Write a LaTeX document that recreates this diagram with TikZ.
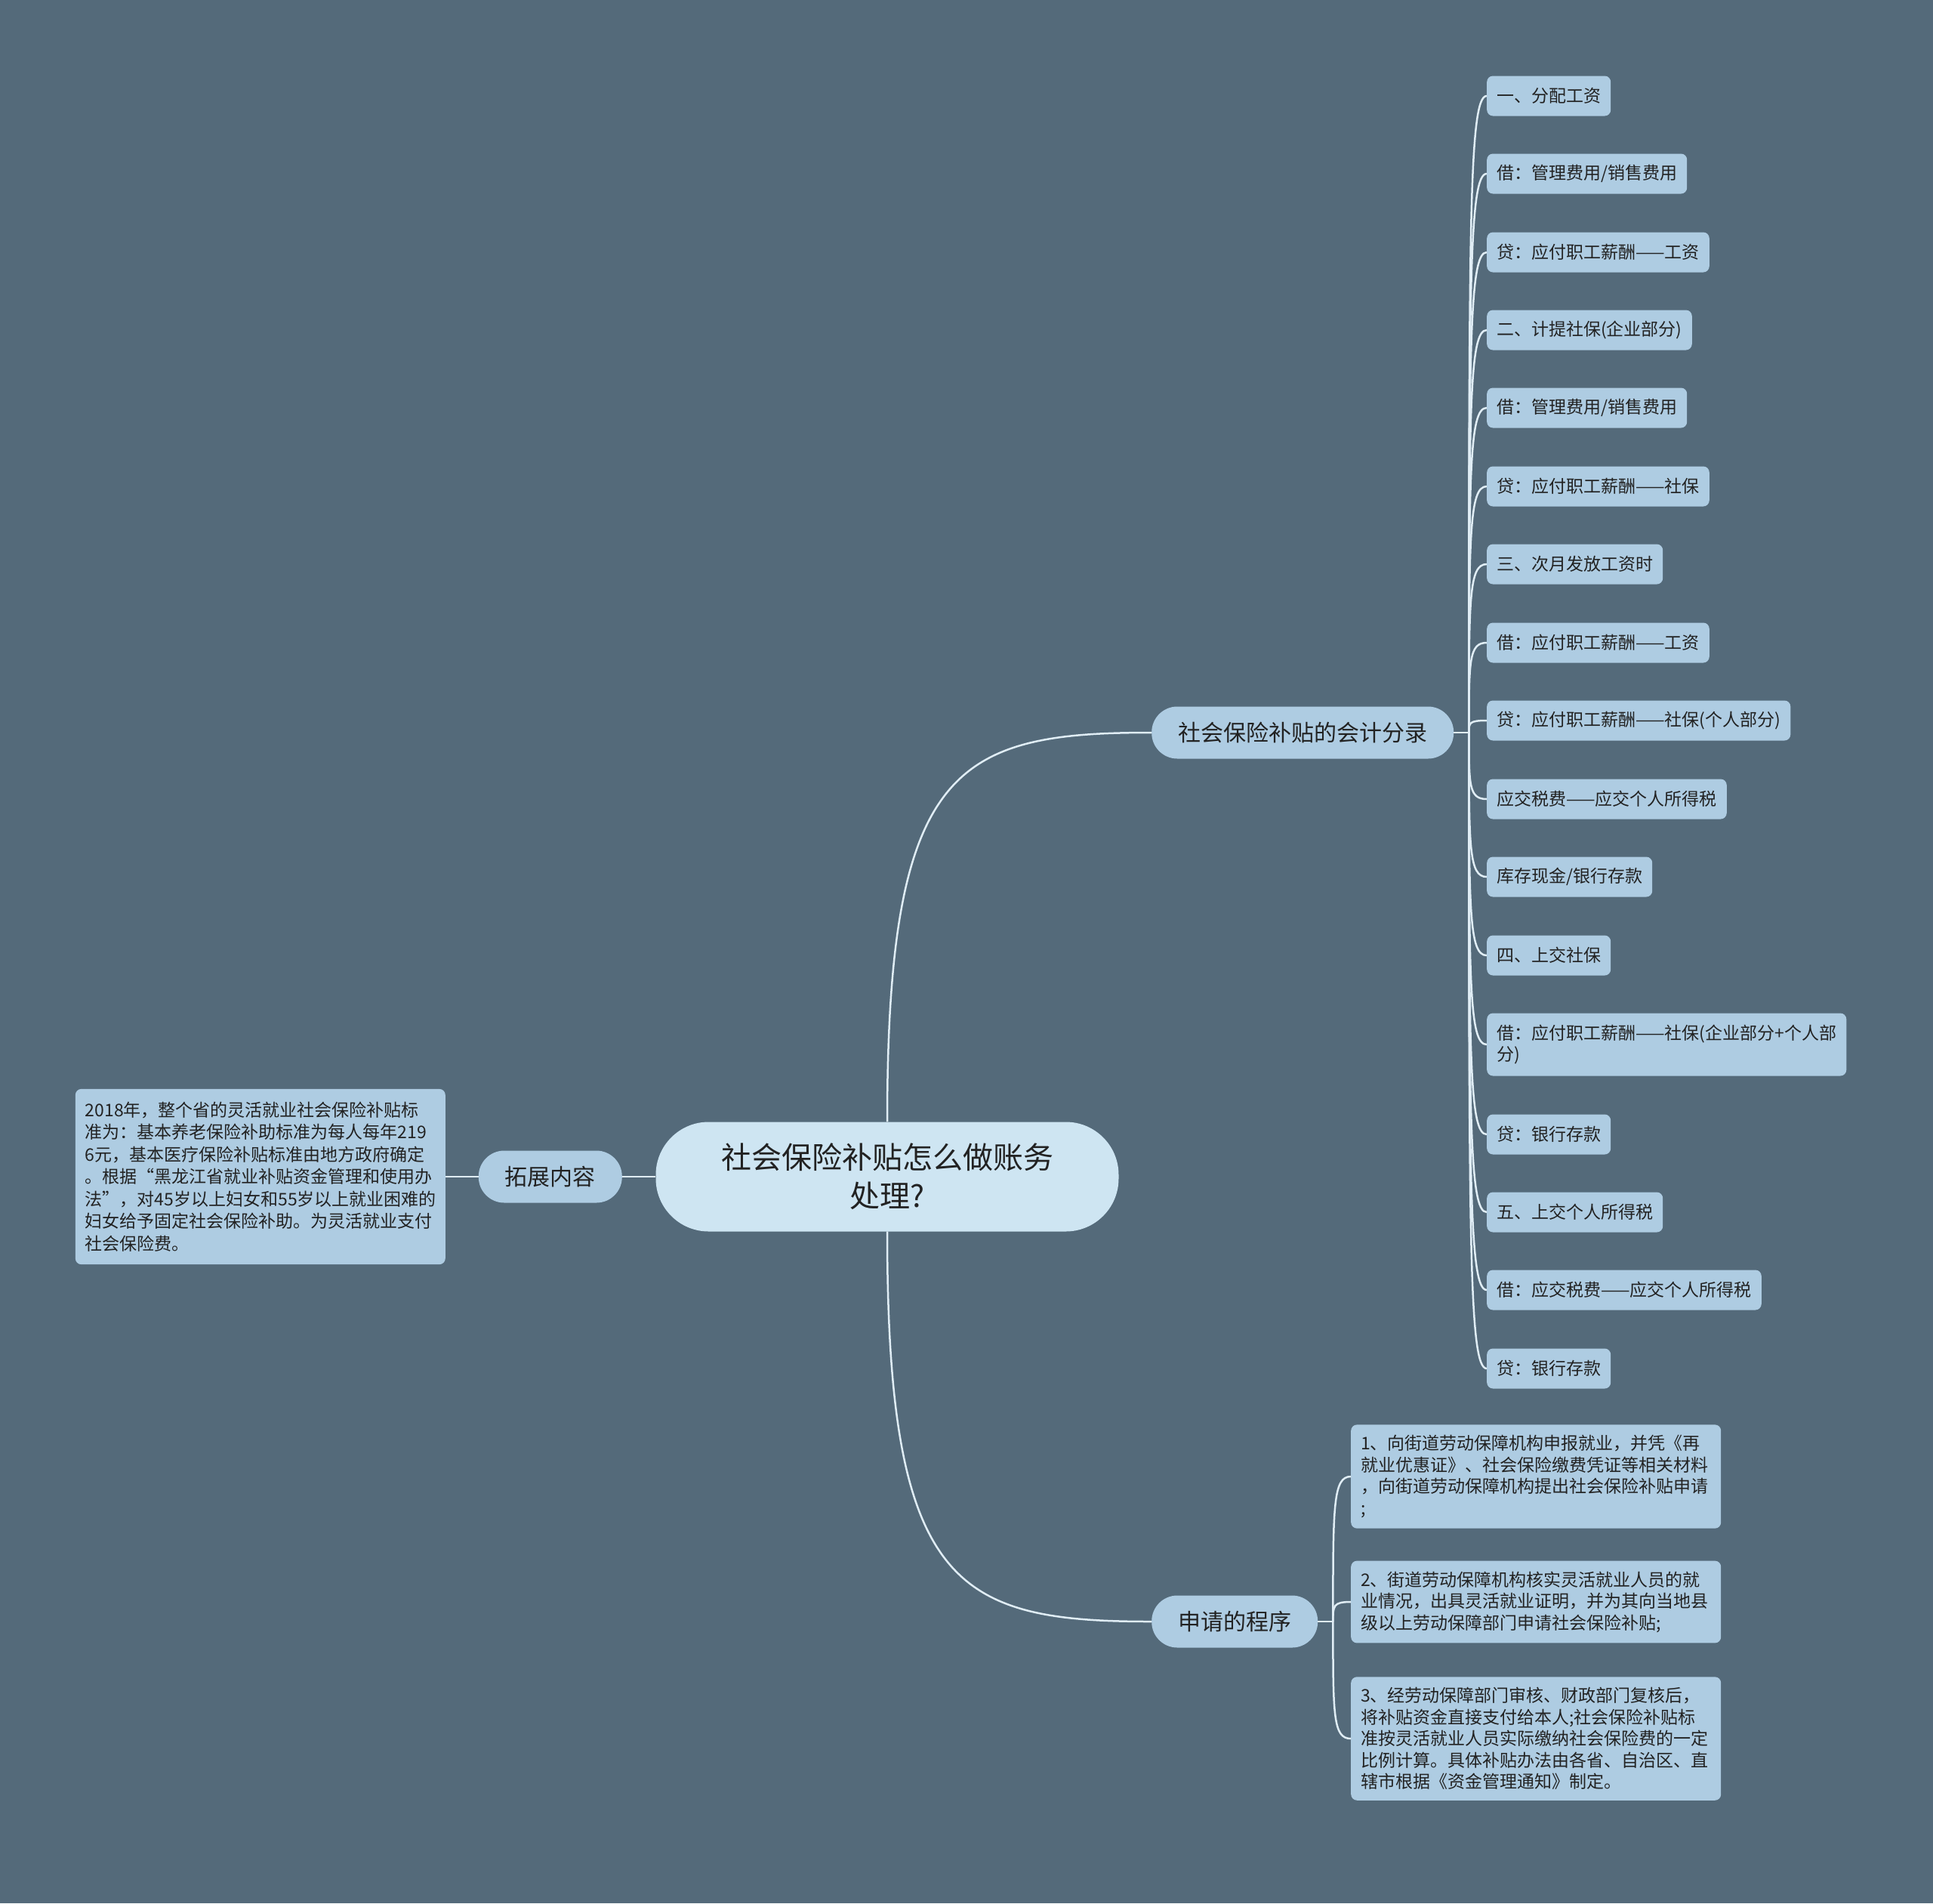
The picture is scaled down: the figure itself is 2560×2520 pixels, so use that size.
\documentclass[tikz,border=0pt]{standalone}
\usepackage{fontspec}
\setmainfont{Noto Sans CJK SC}
\usetikzlibrary{calc}
\definecolor{bg}{RGB}{84,106,122}
\definecolor{leafc}{RGB}{174,204,226}
\definecolor{rootc}{RGB}{206,229,242}
\definecolor{linec}{RGB}{224,237,245}
\definecolor{txt}{RGB}{34,34,34}
\tikzset{
  conn/.style={draw=linec, line width=2.5pt},
  leafbox/.style={rectangle, rounded corners=8pt, fill=leafc, text=txt, anchor=west,
    font=\fontsize{23}{28.5}\selectfont, inner xsep=13pt, inner ysep=8pt, minimum height=53pt, align=left},
  parabox/.style={rectangle, rounded corners=8pt, fill=leafc, text=txt,
    font=\fontsize{23}{28.5}\selectfont, inner xsep=13pt, inner ysep=14pt, text width=464pt, align=left},
  branchbox/.style={rectangle, rounded corners=34pt, fill=leafc, text=txt,
    font=\fontsize{30}{36}\selectfont, inner xsep=35pt, minimum height=69pt},
  rootbox/.style={rectangle, rounded corners=70pt, fill=rootc, text=txt,
    font=\fontsize{40}{51}\selectfont, minimum width=613pt, minimum height=145pt, align=center}
}
\begin{document}
\begin{tikzpicture}[x=1pt,y=-1pt]
\fill[bg] (0,0) rectangle (2560,2520);
\useasboundingbox (0,0) rectangle (2560,2520);

% root and branches
\node[rootbox] (root) at (1175,1558) {社会保险补贴怎么做账务\\处理?};
\node[branchbox, anchor=west] (b1) at (1525,970) {社会保险补贴的会计分录};
\node[branchbox, anchor=west] (b2) at (1525,2147) {申请的程序};
\node[branchbox, anchor=east] (tz) at (824,1558) {拓展内容};

% left paragraph
\node[parabox, anchor=east, inner ysep=17pt, font=\fontsize{23}{29.5}\selectfont] (lb) at (590,1558) {2018年，整个省的灵活就业社会保险补贴标\\准为：基本养老保险补助标准为每人每年219\\6元，基本医疗保险补贴标准由地方政府确定\\。根据“黑龙江省就业补贴资金管理和使用办\\法”，对45岁以上妇女和55岁以上就业困难的\\妇女给予固定社会保险补助。为灵活就业支付\\社会保险费。};

% leaves of branch 1
\node[leafbox] (l1) at (1969,127) {一、分配工资};
\node[leafbox] (l2) at (1969,230) {借：管理费用/销售费用};
\node[leafbox] (l3) at (1969,334) {贷：应付职工薪酬——工资};
\node[leafbox] (l4) at (1969,437) {二、计提社保(企业部分)};
\node[leafbox] (l5) at (1969,540) {借：管理费用/销售费用};
\node[leafbox] (l6) at (1969,644) {贷：应付职工薪酬——社保};
\node[leafbox] (l7) at (1969,747) {三、次月发放工资时};
\node[leafbox] (l8) at (1969,851) {借：应付职工薪酬——工资};
\node[leafbox] (l9) at (1969,954) {贷：应付职工薪酬——社保(个人部分)};
\node[leafbox] (l10) at (1969,1058) {应交税费——应交个人所得税};
\node[leafbox] (l11) at (1969,1161) {库存现金/银行存款};
\node[leafbox] (l12) at (1969,1265) {四、上交社保};
\node[leafbox, minimum height=83pt] (l13) at (1969,1383) {借：应付职工薪酬——社保(企业部分+个人部\\分)};
\node[leafbox] (l14) at (1969,1502) {贷：银行存款};
\node[leafbox] (l15) at (1969,1605) {五、上交个人所得税};
\node[leafbox] (l16) at (1969,1708) {借：应交税费——应交个人所得税};
\node[leafbox] (l17) at (1969,1812) {贷：银行存款};

% leaves of branch 2
\node[parabox, anchor=west] (p1) at (1789,1955) {1、向街道劳动保障机构申报就业，并凭《再\\就业优惠证》、社会保险缴费凭证等相关材料\\，向街道劳动保障机构提出社会保险补贴申请\\;};
\node[parabox, anchor=west] (p2) at (1789,2121) {2、街道劳动保障机构核实灵活就业人员的就\\业情况，出具灵活就业证明，并为其向当地县\\级以上劳动保障部门申请社会保险补贴;};
\node[parabox, anchor=west] (p3) at (1789,2302) {3、经劳动保障部门审核、财政部门复核后，\\将补贴资金直接支付给本人;社会保险补贴标\\准按灵活就业人员实际缴纳社会保险费的一定\\比例计算。具体补贴办法由各省、自治区、直\\辖市根据《资金管理通知》制定。};

% connectors
\draw[conn] (root.north) .. controls +(0,-470) and +(-260,0) .. (b1.west);
\draw[conn] (root.south) .. controls +(0,470) and +(-260,0) .. (b2.west);
\draw[conn] (root.west) -- (tz.east);
\draw[conn] (tz.west) -- (lb.east);

\draw[conn] (b1.east) -- ++(20,0) coordinate (j1);
\foreach \i in {1,...,17}
  \draw[conn] (j1) .. controls ($(j1)!0.8!(j1 |- l\i.west)$) and (j1 |- l\i.west) .. (l\i.west);

\draw[conn] (b2.east) -- ++(20,0) coordinate (j2);
\foreach \i in {1,2,3}
  \draw[conn] (j2) .. controls ($(j2)!0.8!(j2 |- p\i.west)$) and (j2 |- p\i.west) .. (p\i.west);
\end{tikzpicture}
\end{document}
